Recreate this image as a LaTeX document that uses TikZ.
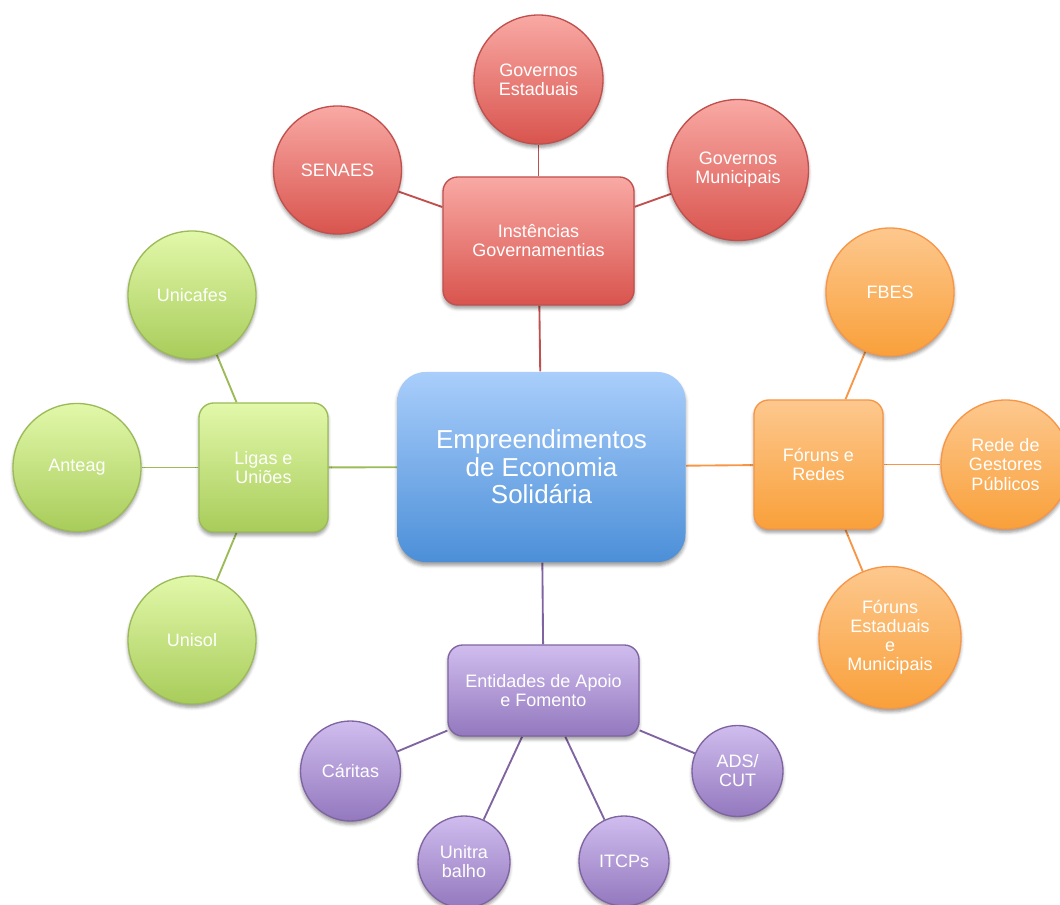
\documentclass[tikz,border=0pt]{standalone}
\usepackage{fontspec}
\setmainfont{Liberation Sans}
\usetikzlibrary{shadows.blur}
\pgfdeclarelayer{background}
\pgfsetlayers{background,main}

% palette
\definecolor{redTop}{HTML}{F9A9A4}
\definecolor{redBot}{HTML}{D9544E}
\definecolor{redLine}{HTML}{C0504D}
\definecolor{grnTop}{HTML}{E2F8AA}
\definecolor{grnBot}{HTML}{A8CC5A}
\definecolor{grnLine}{HTML}{9BBB59}
\definecolor{orgTop}{HTML}{FDC88E}
\definecolor{orgBot}{HTML}{F9A03A}
\definecolor{orgLine}{HTML}{F79646}
\definecolor{purTop}{HTML}{D0BDEE}
\definecolor{purBot}{HTML}{9378BE}
\definecolor{purLine}{HTML}{8064A2}
\definecolor{bluTop}{HTML}{A9CEFB}
\definecolor{bluBot}{HTML}{4C8FD8}

\tikzset{
  base/.style={inner sep=0pt, align=center, text=white, line width=1pt,
    font=\fontsize{13.5pt}{14.3pt}\selectfont,
    blur shadow={shadow xshift=0pt, shadow yshift=-2.5pt,
                 shadow blur radius=2.5pt, shadow opacity=40}},
  bubble/.style={base, circle, minimum size=#1},
  panel/.style 2 args={base, rounded corners=11pt, minimum width=#1, minimum height=#2},
  redfill/.style={top color=redTop, bottom color=redBot, draw=redLine},
  grnfill/.style={top color=grnTop, bottom color=grnBot, draw=grnLine},
  orgfill/.style={top color=orgTop, bottom color=orgBot, draw=orgLine},
  purfill/.style={top color=purTop, bottom color=purBot, draw=purLine},
  link/.style={line width=1.4pt, draw=#1},
}

\begin{document}
\begin{tikzpicture}[x=0.75pt, y=-0.75pt]
\useasboundingbox (0,0) rectangle (1060,905);

% hub
\node[base, rounded corners=21pt, minimum width=216pt, minimum height=142.5pt,
      top color=bluTop, bottom color=bluBot,
      font=\fontsize{19.5pt}{20.6pt}\selectfont] (hub) at (541.5,467)
  {Empreendimentos\\de Economia\\Solidária};

% government branch
\node[panel={143.25pt}{96pt}, redfill] (gov) at (538.5,241) {Instências\\Governamentias};
\node[bubble=96.75pt, redfill] (gest) at (538.5,79.5) {Governos\\Estaduais};
\node[bubble=96pt, redfill] (senaes) at (337.5,170) {SENAES};
\node[bubble=105.75pt, redfill] (gmun) at (738,170) {Governos\\Municipais};

% leagues branch
\node[panel={96.75pt}{96.75pt}, grnfill] (ligas) at (263.5,467.5) {Ligas e\\Uniões};
\node[bubble=96pt, grnfill] (unicafes) at (192,295) {Unicafes};
\node[bubble=96pt, grnfill] (anteag) at (77,467.5) {Anteag};
\node[bubble=96pt, grnfill] (unisol) at (192,640) {Unisol};

% forums branch
\node[panel={96.75pt}{96.75pt}, orgfill] (foruns) at (818.5,464.5) {Fóruns e\\Redes};
\node[bubble=96pt, orgfill] (fbes) at (890,292) {FBES};
\node[bubble=96.75pt, orgfill] (rede) at (1005.5,464.5) {Rede de\\Gestores\\Públicos};
\node[bubble=106.5pt, orgfill] (festm) at (890,637.5) {Fóruns\\Estaduais\\e\\Municipais};

% support branch
\node[panel={143.25pt}{68.25pt}, purfill] (apoio) at (543.5,690.5) {Entidades de Apoio\\e Fomento};
\node[bubble=75pt, purfill] (caritas) at (350.5,771) {Cáritas};
\node[bubble=69pt, purfill] (unitra) at (464,862) {Unitra\\balho};
\node[bubble=67.5pt, purfill] (itcps) at (624,861) {ITCPs};
\node[bubble=68.25pt, purfill] (adscut) at (737.5,771) {ADS/\\CUT};

\begin{pgfonlayer}{background}
  \draw[link=redLine] (hub) -- (gov);
  \draw[link=redLine] (gov) -- (gest);
  \draw[link=redLine] (gov) -- (senaes);
  \draw[link=redLine] (gov) -- (gmun);
  \draw[link=grnLine] (hub) -- (ligas);
  \draw[link=grnLine] (ligas) -- (unicafes);
  \draw[link=grnLine] (ligas) -- (anteag);
  \draw[link=grnLine] (ligas) -- (unisol);
  \draw[link=orgLine] (hub) -- (foruns);
  \draw[link=orgLine] (foruns) -- (fbes);
  \draw[link=orgLine] (foruns) -- (rede);
  \draw[link=orgLine] (foruns) -- (festm);
  \draw[link=purLine] (hub) -- (apoio);
  \draw[link=purLine] (apoio) -- (caritas);
  \draw[link=purLine] (apoio) -- (unitra);
  \draw[link=purLine] (apoio) -- (itcps);
  \draw[link=purLine] (apoio) -- (adscut);
\end{pgfonlayer}
\end{tikzpicture}
\end{document}
